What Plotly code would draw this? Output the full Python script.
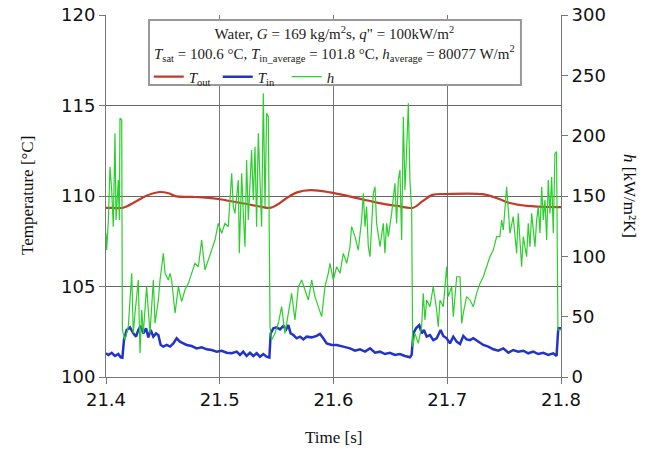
import plotly.graph_objects as go

# ---- data ----
t_out = [21.400, 21.405, 21.415, 21.425, 21.435, 21.447, 21.455, 21.462, 21.476, 21.490,
         21.500, 21.520, 21.535, 21.544, 21.550, 21.558, 21.568, 21.580, 21.597, 21.614,
         21.630, 21.645, 21.656, 21.670, 21.678, 21.687, 21.700, 21.731, 21.745, 21.755,
         21.770, 21.796, 21.800]
T_out = [109.34, 109.34, 109.35, 109.65, 110.00, 110.22, 110.15, 109.98, 109.95, 109.90,
         109.82, 109.60, 109.42, 109.34, 109.50, 109.85, 110.20, 110.32, 110.20, 109.98,
         109.75, 109.55, 109.45, 109.35, 109.70, 110.06, 110.11, 110.10, 109.85, 109.61,
         109.45, 109.39, 109.39]

t_in = [21.4000, 21.4021, 21.4050, 21.4079, 21.4108, 21.4129, 21.4144, 21.4158, 21.4182, 21.4211,
        21.4240, 21.4264, 21.4284, 21.4305, 21.4328, 21.4352, 21.4372, 21.4393, 21.4416, 21.4440,
        21.4460, 21.4481, 21.4504, 21.4533, 21.4563, 21.4592, 21.4621, 21.4650, 21.4680, 21.4709,
        21.4753, 21.4797, 21.4841, 21.4885, 21.4929, 21.4973, 21.5017, 21.5061, 21.5105, 21.5149,
        21.5178, 21.5207, 21.5236, 21.5266, 21.5295, 21.5324, 21.5354, 21.5383, 21.5412, 21.5436,
        21.5448, 21.5471, 21.5500, 21.5530, 21.5559, 21.5583, 21.5603, 21.5623, 21.5647, 21.5676,
        21.5705, 21.5735, 21.5764, 21.5808, 21.5852, 21.5881, 21.5910, 21.5940, 21.5984, 21.6028,
        21.6086, 21.6145, 21.6189, 21.6233, 21.6277, 21.6321, 21.6365, 21.6409, 21.6452, 21.6496,
        21.6540, 21.6584, 21.6628, 21.6672, 21.6687, 21.6702, 21.6725, 21.6754, 21.6775, 21.6795,
        21.6819, 21.6848, 21.6877, 21.6907, 21.6942, 21.6965, 21.6995, 21.7024, 21.7053, 21.7083,
        21.7112, 21.7141, 21.7170, 21.7200, 21.7229, 21.7273, 21.7317, 21.7361, 21.7405, 21.7449,
        21.7493, 21.7537, 21.7580, 21.7624, 21.7668, 21.7712, 21.7756, 21.7800, 21.7844, 21.7888,
        21.7932, 21.7961, 21.7976, 21.8000]
T_in = [101.31, 101.22, 101.34, 101.16, 101.27, 101.09, 101.07, 102.04, 102.60, 102.74,
        102.41, 102.23, 102.60, 102.82, 102.41, 102.69, 102.19, 102.60, 102.23, 102.41,
        102.32, 101.77, 101.68, 101.77, 101.68, 101.86, 102.14, 101.95, 101.86, 101.77,
        101.71, 101.58, 101.64, 101.53, 101.49, 101.40, 101.45, 101.34, 101.31, 101.40,
        101.22, 101.40, 101.16, 101.34, 101.16, 101.31, 101.12, 101.27, 101.12, 101.07,
        102.41, 102.69, 102.74, 102.63, 102.82, 102.63, 102.87, 102.41, 102.32, 102.14,
        102.23, 102.08, 102.23, 102.19, 102.27, 102.38, 102.14, 101.86, 101.77, 101.77,
        101.68, 101.58, 101.45, 101.53, 101.40, 101.58, 101.34, 101.40, 101.27, 101.34,
        101.22, 101.27, 101.16, 101.09, 101.22, 102.41, 102.69, 102.87, 102.41, 102.60,
        102.23, 102.32, 102.04, 102.14, 102.60, 102.27, 102.14, 101.86, 102.23, 101.95,
        101.82, 102.27, 102.08, 102.04, 102.14, 101.95, 101.77, 101.68, 101.53, 101.45,
        101.58, 101.34, 101.49, 101.40, 101.45, 101.31, 101.40, 101.27, 101.34, 101.22,
        101.31, 101.16, 102.69, 102.69]

t_h = [21.4000, 21.4006, 21.4021, 21.4035, 21.4050, 21.4064, 21.4079, 21.4088, 21.4100, 21.4108,
       21.4117, 21.4123, 21.4138, 21.4144, 21.4167, 21.4196, 21.4226, 21.4240, 21.4255, 21.4284,
       21.4299, 21.4314, 21.4328, 21.4357, 21.4387, 21.4416, 21.4431, 21.4460, 21.4475, 21.4504,
       21.4519, 21.4548, 21.4563, 21.4577, 21.4607, 21.4636, 21.4665, 21.4694, 21.4724, 21.4753,
       21.4782, 21.4812, 21.4841, 21.4870, 21.4900, 21.4929, 21.4958, 21.4987, 21.5017, 21.5046,
       21.5075, 21.5105, 21.5119, 21.5134, 21.5163, 21.5172, 21.5193, 21.5207, 21.5222, 21.5236,
       21.5251, 21.5280, 21.5295, 21.5310, 21.5324, 21.5339, 21.5354, 21.5368, 21.5383, 21.5398,
       21.5412, 21.5427, 21.5442, 21.5456, 21.5486, 21.5515, 21.5544, 21.5573, 21.5603, 21.5632,
       21.5661, 21.5691, 21.5720, 21.5749, 21.5779, 21.5808, 21.5837, 21.5866, 21.5896, 21.5925,
       21.5954, 21.5969, 21.5998, 21.6028, 21.6057, 21.6086, 21.6116, 21.6145, 21.6159, 21.6189,
       21.6218, 21.6247, 21.6262, 21.6277, 21.6291, 21.6306, 21.6321, 21.6350, 21.6365, 21.6379,
       21.6409, 21.6438, 21.6452, 21.6467, 21.6482, 21.6511, 21.6540, 21.6555, 21.6570, 21.6584,
       21.6599, 21.6614, 21.6628, 21.6643, 21.6658, 21.6672, 21.6687, 21.6696, 21.6716, 21.6745,
       21.6775, 21.6789, 21.6804, 21.6819, 21.6848, 21.6877, 21.6907, 21.6921, 21.6936, 21.6965,
       21.6995, 21.7009, 21.7039, 21.7053, 21.7083, 21.7112, 21.7127, 21.7141, 21.7170, 21.7200,
       21.7229, 21.7258, 21.7288, 21.7317, 21.7346, 21.7375, 21.7405, 21.7434, 21.7463, 21.7478,
       21.7493, 21.7507, 21.7522, 21.7537, 21.7551, 21.7580, 21.7610, 21.7624, 21.7639, 21.7654,
       21.7668, 21.7698, 21.7712, 21.7727, 21.7742, 21.7756, 21.7771, 21.7786, 21.7800, 21.7815,
       21.7830, 21.7844, 21.7859, 21.7874, 21.7888, 21.7903, 21.7918, 21.7932, 21.7947, 21.7961,
       21.7973, 21.8000]
h_val = [119.1, 105.2, 130.1, 174.3, 155.0, 124.6, 201.9, 130.1, 149.4, 163.3,
         130.1, 214.4, 213.0, 39.0, 30.7, 41.7, 85.9, 36.2, 52.8, 80.4,
         19.6, 55.5, 36.2, 74.9, 36.2, 80.4, 44.5, 63.8, 80.4, 102.5,
         85.9, 80.4, 85.9, 80.4, 52.8, 74.9, 62.4, 72.1, 77.6, 85.9,
         94.2, 91.4, 113.5, 88.7, 97.0, 105.2, 113.5, 127.3, 119.1, 127.3,
         124.6, 168.8, 141.2, 135.6, 163.3, 102.5, 168.8, 135.6, 108.0, 179.8,
         130.1, 188.1, 146.7, 190.9, 124.6, 201.9, 163.3, 124.6, 235.1, 141.2,
         218.5, 215.7, 41.7, 30.7, 36.2, 44.5, 58.3, 36.2, 52.8, 69.3,
         47.2, 74.9, 80.4, 72.1, 63.8, 80.4, 66.6, 58.3, 50.0, 74.9,
         85.9, 94.2, 80.4, 91.4, 85.9, 102.5, 94.2, 108.0, 124.6, 116.3,
         105.2, 130.1, 152.2, 124.6, 141.2, 108.0, 99.7, 152.2, 157.7, 127.3,
         108.0, 127.3, 102.5, 127.3, 116.3, 135.6, 160.5, 127.3, 163.3, 171.5,
         113.5, 215.7, 155.0, 188.1, 226.8, 163.3, 138.4, 25.1, 36.2, 27.9,
         41.7, 69.3, 47.2, 63.8, 58.3, 74.9, 55.5, 41.7, 63.8, 58.3,
         91.4, 66.6, 74.9, 50.0, 83.1, 83.1, 44.5, 52.8, 66.6, 63.8,
         58.3, 69.3, 77.6, 83.1, 91.4, 99.7, 105.2, 116.3, 116.3, 130.1,
         121.8, 141.2, 157.7, 138.4, 119.1, 132.9, 102.5, 135.6, 108.0, 91.4,
         116.3, 99.7, 127.3, 108.0, 135.6, 119.1, 108.0, 130.1, 141.2, 119.1,
         157.7, 130.1, 146.7, 113.5, 163.3, 135.6, 166.0, 119.1, 185.4, 186.7,
         39.0, 39.0]

x_ticks = [21.4, 21.5, 21.6, 21.7, 21.8]
x_tick_text = ["21.4", "21.5", "21.6", "21.7", "21.8"]
y_ticks = [100, 105, 110, 115, 120]
y2_ticks = [0, 50, 100, 150, 200, 250, 300]

info_text = ("Water, <i>G</i> = 169 kg/m<sup>2</sup>s, <i>q</i>\" = 100kW/m<sup>2</sup><br>"
             "<i>T</i><sub>sat</sub> = 100.6 °C, <i>T</i><sub>in_average</sub> = 101.8 °C, "
             "<i>h</i><sub>average</sub> = 80077 W/m<sup>2</sup>")

SERIF = "Liberation Serif, Times New Roman, serif"
SANS = "DejaVu Sans, Verdana, sans-serif"

fig = go.Figure()
fig.add_trace(go.Scatter(x=t_h, y=h_val, yaxis="y2", mode="lines", name="<i>h</i>",
                         line=dict(color="#2bcf2b", width=1.2), legendrank=3))
fig.add_trace(go.Scatter(x=t_out, y=T_out, mode="lines", name="<i>T</i><sub>out</sub>",
                         line=dict(color="#c43a2a", width=2.2, shape="spline"), legendrank=1))
fig.add_trace(go.Scatter(x=t_in, y=T_in, mode="lines", name="<i>T</i><sub>in</sub>",
                         line=dict(color="#2233c8", width=2.5), legendrank=2))

axis_common = dict(showline=True, linecolor="#777", linewidth=1,
                   ticks="outside", ticklen=6, tickcolor="#777",
                   tickfont=dict(family=SANS, size=18, color="#111"),
                   zeroline=False, automargin=False)

fig.update_layout(
    width=661, height=453,
    margin=dict(l=106, r=100, t=15, b=76, autoexpand=False),
    paper_bgcolor="white", plot_bgcolor="white",
    font=dict(family=SERIF, size=15, color="#222"),
    xaxis=dict(range=[21.4, 21.8], tickvals=x_ticks, ticktext=x_tick_text,
               showgrid=True, gridcolor="#777", gridwidth=1, **axis_common),
    yaxis=dict(range=[100, 120], tickvals=y_ticks,
               showgrid=True, gridcolor="#666", gridwidth=1, **axis_common),
    yaxis2=dict(range=[0, 300], tickvals=y2_ticks, overlaying="y", side="right",
                showgrid=False, **axis_common),
    legend=dict(
        orientation="h", x=0.094, xanchor="left", y=0.829, yanchor="middle",
        bgcolor="rgba(0,0,0,0)", borderwidth=0,
        font=dict(family=SERIF, size=15, color="#222"),
        itemwidth=30, entrywidth=24, entrywidthmode="pixels", tracegroupgap=0,
    ),
    shapes=[dict(type="rect", xref="paper", yref="paper",
                 x0=0.0945, x1=0.912, y0=0.8066, y1=0.986,
                 line=dict(color="#999", width=2), fillcolor="white", layer="above")],
    annotations=[
        dict(text=info_text, x=0.503, y=0.981, xref="paper", yref="paper",
             showarrow=False, align="center", xanchor="center", yanchor="top",
             font=dict(family=SERIF, size=15, color="#222")),
        dict(text="Temperature [°C]", x=0, y=0.5, xref="paper", yref="paper", xshift=-79,
             showarrow=False, textangle=-90, font=dict(family=SERIF, size=17, color="#111"),
             xanchor="center", yanchor="middle"),
        dict(text="<i>h</i> [kW/m²K]", x=1, y=0.5, xref="paper", yref="paper",
             showarrow=False, textangle=90, font=dict(family=SERIF, size=17, color="#111"),
             xanchor="center", yanchor="middle", xshift=69),
        dict(text="Time [s]", x=0.5, y=0, xref="paper", yref="paper", yshift=-60,
             showarrow=False, font=dict(family=SERIF, size=17, color="#111"),
             xanchor="center", yanchor="middle"),
    ],
)

fig.write_html("out.html", config={"displayModeBar": False},
               post_script="document.body.style.margin='0px';document.body.style.overflow='hidden';")
